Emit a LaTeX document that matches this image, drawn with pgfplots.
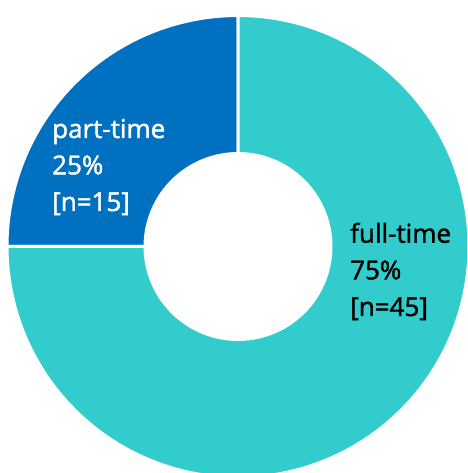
\documentclass[border=0pt]{standalone}
\usepackage{pgfplots}
\pgfplotsset{compat=1.18}
\usepackage{pgfplotstable}
\usepackage{fontspec}
\setmainfont{Open Sans}
\newfontfamily\lblfont{Open Sans}[FakeBold=1.6]
\definecolor{fullc}{HTML}{33CCCC}
\definecolor{partc}{HTML}{0070C0}
\pgfplotstableread{
label value
part-time 15
full-time 45
}\data
\pgfplotstablegetelem{0}{value}\of\data \let\vpart\pgfplotsretval
\pgfplotstablegetelem{1}{value}\of\data \let\vfull\pgfplotsretval
\pgfmathsetmacro{\tot}{\vpart+\vfull}
\pgfmathsetmacro{\aA}{90}
\pgfmathsetmacro{\aB}{90+360*\vpart/\tot}
\pgfmathsetmacro{\aC}{\aB+360*\vfull/\tot}
\def\cx{238}
\def\cy{226.5}
\def\R{231}
\def\r{94.5}
\tikzset{lbl/.style={anchor=base west, font=\lblfont\fontsize{26}{30}\selectfont, inner sep=0pt}}
\begin{document}
\begin{tikzpicture}
\begin{axis}[
  width=467pt, height=473pt, scale only axis,
  xmin=0, xmax=467, ymin=0, ymax=473,
  hide axis, clip=true,
]
\addplot[fill=partc, draw=white, line width=3pt, line join=miter, domain=\aA:\aB, samples=80, variable=\t]
  ({\cx+\R*cos(\t)},{\cy+\R*sin(\t)}) -- (axis cs:\cx,\cy) -- cycle;
\addplot[fill=fullc, draw=white, line width=3pt, line join=miter, domain=\aB:\aC, samples=200, variable=\t]
  ({\cx+\R*cos(\t)},{\cy+\R*sin(\t)}) -- (axis cs:\cx,\cy) -- cycle;
\addplot[fill=white, draw=none, domain=0:360, samples=120, variable=\t]
  ({\cx+\r*cos(\t)},{\cy+\r*sin(\t)}) -- cycle;
\node[lbl, text=white] at (axis cs:52,335) {part-time};
\node[lbl, text=white] at (axis cs:52,298.7) {25\%};
\node[lbl, text=white] at (axis cs:52,262) {[n=15]};
\node[lbl, text=black] at (axis cs:350,230.3) {full-time};
\node[lbl, text=black] at (axis cs:350,193.7) {75\%};
\node[lbl, text=black] at (axis cs:350,157) {[n=45]};
\end{axis}
\pgfresetboundingbox
\path[use as bounding box] (current axis.south west) rectangle (current axis.north east);
\end{tikzpicture}
\end{document}
